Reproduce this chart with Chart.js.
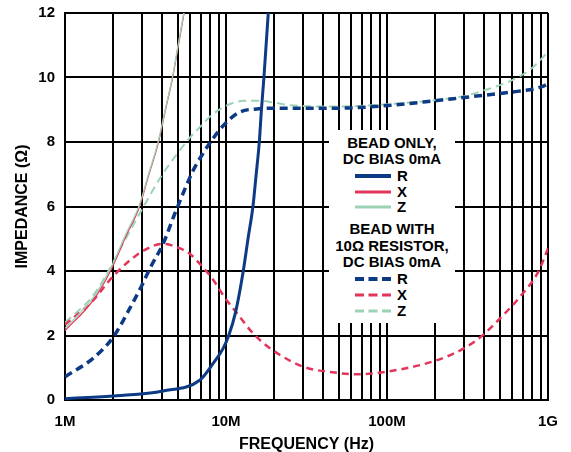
<!DOCTYPE html>
<html>
<head>
<meta charset="utf-8">
<script src="https://cdn.jsdelivr.net/npm/chart.js@4"></script>
<style>
  html, body { margin: 0; padding: 0; background: #fff; }
  #wrap { position: relative; width: 571px; height: 452px; }
  #legend { position: absolute; left: 329px; top: 130px; width: 126px; height: 193px; background: #fff;
            font-family: "Liberation Sans", Arial, sans-serif; font-weight: bold; font-size: 15px; color: #000; }
  .t { position: absolute; left: 0; width: 126px; text-align: center; line-height: 16px; height: 16px; white-space: nowrap; }
  .row { position: absolute; left: 26px; height: 16px; line-height: 16px; }
  .row svg { position: absolute; left: 0; top: 0; }
  .row span { position: absolute; left: 42px; top: 0; }
</style>
</head>
<body>
<div id="wrap">
  <canvas id="c" width="571" height="452"></canvas>
  <div id="legend"></div>
</div>
<script>
// ---- data (frequency in MHz, impedance in ohms) ----
const xTickLabels = { 1: '1M', 10: '10M', 100: '100M', 1000: '1G' };
const yTicks = [0, 2, 4, 6, 8, 10, 12];

// Bead only, DC bias 0mA
const beadR_f = [1, 2.09, 4.06, 6.9, 8.34, 9.6, 10.4, 11.5, 12.8, 13.7, 14.7, 15.4, 16.1, 16.6, 17.2, 18.3, 19.4];
const beadR_v = [0.04, 0.13, 0.28, 0.62, 1.14, 1.6, 2.0, 2.75, 4.0, 5.0, 6.0, 7.0, 8.0, 9.0, 10.0, 12.0, 14.0];
const beadX_f = [1, 1.5, 1.95, 2.4, 2.89, 3.3, 3.8, 4.2, 4.66, 5.1, 5.49, 6];
const beadX_v = [2.15, 3.1, 4.08, 5.1, 5.97, 6.95, 7.98, 8.98, 10.0, 11.1, 12.0, 13.2];
const beadZ_f = [1, 1.5, 1.95, 2.4, 2.89, 3.3, 3.8, 4.2, 4.66, 5.1, 5.49, 6];
const beadZ_v = [2.22, 3.18, 4.15, 5.17, 6.03, 7.0, 8.03, 9.02, 10.04, 11.15, 12.05, 13.25];

// Bead with 10 ohm resistor, DC bias 0mA
const resR_f = [1, 1.5, 2, 2.5, 3, 3.37, 4.08, 4.82, 6.27, 7, 8.15, 10, 12.2, 16, 20, 50, 100, 200, 300, 400, 600, 900, 1000];
const resR_v = [0.72, 1.3, 1.96, 2.8, 3.55, 4.08, 4.86, 5.79, 7.13, 7.55, 8.05, 8.6, 8.93, 9.03, 9.05, 9.05, 9.13, 9.28, 9.38, 9.45, 9.55, 9.7, 9.8];
const resX_f = [1, 1.5, 2, 3, 4.06, 5.18, 6, 7, 8.34, 9.6, 11.9, 14.4, 17, 21.6, 30.2, 47.5, 64.8, 100, 200, 300, 396, 503, 670, 871, 1000];
const resX_v = [2.33, 3.1, 3.85, 4.6, 4.84, 4.7, 4.52, 4.18, 3.72, 3.25, 2.64, 2.12, 1.77, 1.4, 1.03, 0.85, 0.8, 0.88, 1.22, 1.6, 2.02, 2.53, 3.2, 3.98, 4.7];
const resZ_f = [1, 1.5, 1.9, 2.3, 3, 4, 5, 6, 7, 8, 10, 13, 16, 20, 25, 50, 100, 200, 300, 400, 600, 800, 1000];
const resZ_v = [2.4, 3.25, 4.08, 4.86, 5.9, 6.97, 7.65, 8.15, 8.5, 8.8, 9.12, 9.28, 9.28, 9.22, 9.14, 9.1, 9.17, 9.3, 9.42, 9.6, 9.92, 10.3, 10.8];

const NAVY = '#0d3a84', RED = '#e3345a', GREEN = '#9dd3b5';

function pts(f, v) { return f.map((x, i) => ({ x: x, y: v[i] })); }

const FONT = '"Liberation Sans", Arial, sans-serif';

const datasets = [
  { label: 'R', data: pts(beadR_f, beadR_v), borderColor: NAVY, borderWidth: 3 },
  { label: 'Z', data: pts(beadZ_f, beadZ_v), borderColor: GREEN, borderWidth: 1.3 },
  { label: 'X', data: pts(beadX_f, beadX_v), borderColor: RED, borderWidth: 1.3 },
  { label: 'R (10Ω)', data: pts(resR_f, resR_v), borderColor: NAVY, borderWidth: 3.5, borderDash: [8, 5] },
  { label: 'X (10Ω)', data: pts(resX_f, resX_v), borderColor: RED, borderWidth: 2.5, borderDash: [7, 5] },
  { label: 'Z (10Ω)', data: pts(resZ_f, resZ_v), borderColor: GREEN, borderWidth: 2, borderDash: [8, 5] }
];

const xGridTicks = [];
[1, 10, 100].forEach(d => { for (let k = 1; k <= 9; k++) xGridTicks.push(k * d); });
xGridTicks.push(1000);

new Chart(document.getElementById('c'), {
  type: 'line',
  data: { datasets: datasets },
  options: {
    responsive: false,
    animation: false,
    devicePixelRatio: 1,
    layout: { padding: { left: 0, right: 23, top: 13, bottom: 0 } },
    elements: {
      point: { radius: 0, hoverRadius: 0 },
      line: { cubicInterpolationMode: 'monotone', capBezierPoints: false, fill: false }
    },
    plugins: { legend: { display: false }, tooltip: { enabled: false } },
    scales: {
      x: {
        type: 'logarithmic', min: 1, max: 1000,
        afterBuildTicks: s => { s.ticks = xGridTicks.map(v => ({ value: v })); },
        afterFit: s => { s.height = 52; s.paddingLeft = 0; s.paddingRight = 0; },
        ticks: {
          autoSkip: false, maxRotation: 0, padding: 13, color: '#000',
          font: { family: FONT, size: 15, weight: 'bold' },
          callback: v => xTickLabels[v] || ''
        },
        grid: { color: '#000', lineWidth: 2, drawTicks: false },
        border: { display: true, color: '#000', width: 2 },
        title: { display: true, text: 'FREQUENCY (Hz)', color: '#000', padding: { top: 0, bottom: -2 },
                 font: { family: FONT, size: 16, weight: 'bold' } }
      },
      y: {
        type: 'linear', min: 0, max: 12,
        afterBuildTicks: s => { s.ticks = yTicks.map(v => ({ value: v })); },
        afterFit: s => { s.width = 65; s.paddingTop = 0; s.paddingBottom = 0; },
        ticks: { padding: 10, color: '#000', font: { family: FONT, size: 15, weight: 'bold' } },
        grid: { color: '#000', lineWidth: 2, drawTicks: false },
        border: { display: true, color: '#000', width: 2 },
        title: { display: true, text: 'IMPEDANCE (Ω)', color: '#000', padding: { top: 13, bottom: 0 },
                 font: { family: FONT, size: 16, weight: 'bold' } }
      }
    }
  }
});

// ---- legend (HTML) ----
const legendGroups = [
  { titles: ['BEAD ONLY,', 'DC BIAS 0mA'], titleY: [5, 21], rowsY: [38, 54, 69], dash: null },
  { titles: ['BEAD WITH', '10Ω RESISTOR,', 'DC BIAS 0mA'], titleY: [91, 108, 124], rowsY: [141, 157, 173], dash: true }
];
const legendRows = [['R', NAVY, 4], ['X', RED, 3], ['Z', GREEN, 3]];
const lg = document.getElementById('legend');
legendGroups.forEach(g => {
  g.titles.forEach((t, i) => {
    const d = document.createElement('div');
    d.className = 't'; d.style.top = g.titleY[i] + 'px'; d.textContent = t;
    lg.appendChild(d);
  });
  legendRows.forEach((r, i) => {
    const d = document.createElement('div');
    d.className = 'row'; d.style.top = g.rowsY[i] + 'px';
    const dash = g.dash ? ' stroke-dasharray="9,4.5"' : '';
    d.innerHTML = '<svg width="37" height="16"><line x1="0" y1="8" x2="36" y2="8" stroke="' + r[1] +
      '" stroke-width="' + r[2] + '"' + dash + '/></svg><span>' + r[0] + '</span>';
    lg.appendChild(d);
  });
});
</script>
</body>
</html>
